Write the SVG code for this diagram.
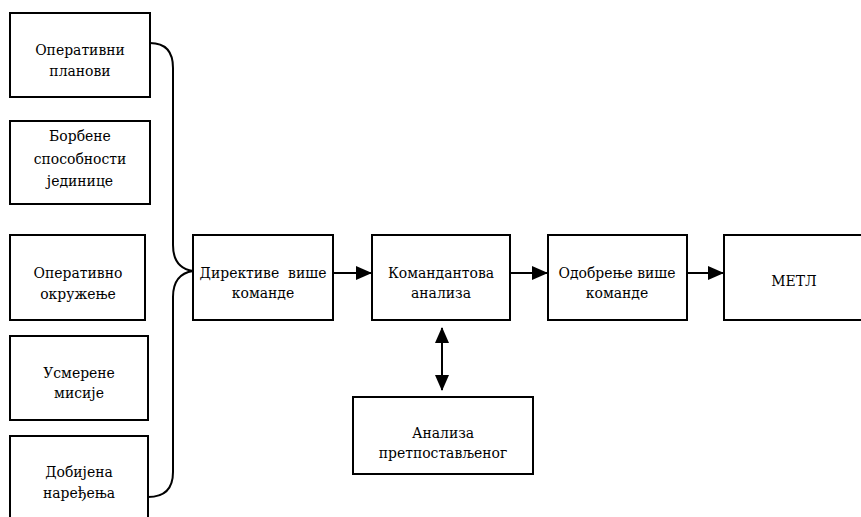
<svg xmlns="http://www.w3.org/2000/svg" width="861" height="517" viewBox="0 0 861 517">
<defs>
<style>
.box{fill:#fff;stroke:#000;stroke-width:2}
.c{fill:none;stroke:#000;stroke-width:2}
text{font-family:"DejaVu Serif","Liberation Serif",serif;font-stretch:condensed;font-size:15.5px;text-anchor:middle;fill:#000}
</style>
<marker id="ah" viewBox="0 0 16 14" refX="15" refY="7" markerWidth="16" markerHeight="14" markerUnits="userSpaceOnUse" orient="auto-start-reverse">
<path d="M0,0 L16,7 L0,14 z" fill="#000"/>
</marker>
</defs>
<rect width="861" height="517" fill="#fff"/>
<g id="n1"><rect class="box" x="10" y="13" width="140" height="84"/><text x="80" y="55">Оперативни</text><text x="80" y="76">планови</text></g>
<g id="n2"><rect class="box" x="10" y="121" width="140" height="83"/><text x="80" y="141">Борбене</text><text x="80" y="164">способности</text><text x="80" y="186">јединице</text></g>
<g id="n3"><rect class="box" x="10" y="235" width="135" height="85"/><text x="78" y="278">Оперативно</text><text x="78" y="299">окружење</text></g>
<g id="n4"><rect class="box" x="10" y="336" width="138" height="84"/><text x="79" y="378">Усмерене</text><text x="79" y="398">мисије</text></g>
<g id="n5"><rect class="box" x="10" y="436" width="138" height="90"/><text x="79" y="477">Добијена</text><text x="79" y="498">наређења</text></g>
<g id="n6"><rect class="box" x="193" y="235" width="140" height="85"/><text x="263" y="278" xml:space="preserve">Директиве  више</text><text x="263" y="298">команде</text></g>
<g id="n7"><rect class="box" x="372" y="235" width="138" height="85"/><text x="441" y="278">Командантова</text><text x="441" y="298">анализа</text></g>
<g id="n8"><rect class="box" x="548" y="235" width="139" height="85"/><text x="617" y="278">Одобрење више</text><text x="617" y="298">команде</text></g>
<g id="n9"><rect class="box" x="724" y="235" width="150" height="85"/><text x="794" y="286">МЕТЛ</text></g>
<g id="n10"><rect class="box" x="353" y="397" width="180" height="77"/><text x="443" y="438">Анализа</text><text x="443" y="458">претпостављеног</text></g>
<g id="connectors">
<path class="c" d="M150,43 Q173,43 173,68 L173,245 Q173,268 193,271 Q173,274 173,297 L173,472 Q173,497 148,497"/>
<path class="c" d="M333,273 L371,273" marker-end="url(#ah)"/>
<path class="c" d="M510,273 L547,273" marker-end="url(#ah)"/>
<path class="c" d="M687,273 L723,273" marker-end="url(#ah)"/>
<path class="c" d="M442,328 L442,390" marker-start="url(#ah)" marker-end="url(#ah)"/>
</g>
</svg>
